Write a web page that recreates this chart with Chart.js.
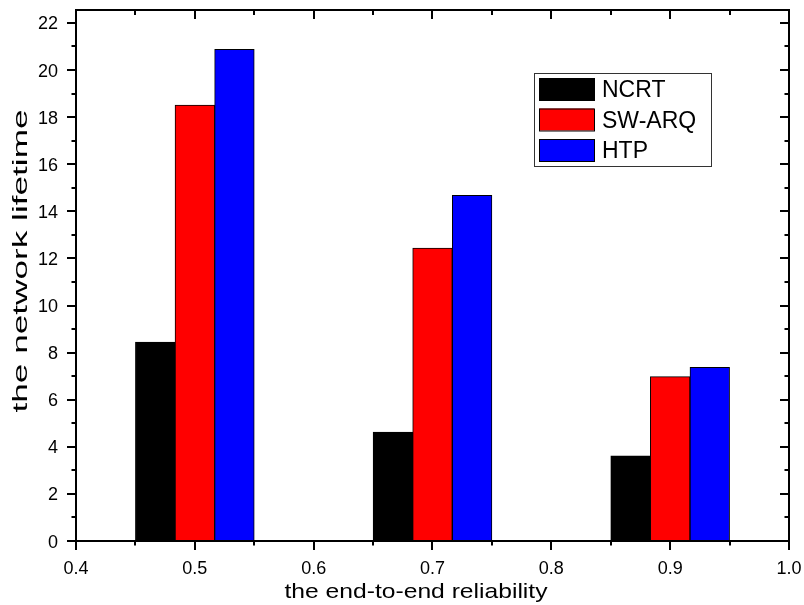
<!DOCTYPE html>
<html>
<head>
<meta charset="utf-8">
<script src="https://cdn.jsdelivr.net/npm/chart.js@4/dist/chart.umd.min.js"></script>
<style>
  html, body { margin: 0; padding: 0; background: #fff; }
  #wrap { width: 804px; height: 605px; }
</style>
</head>
<body>
<div id="wrap"><canvas id="lifetime-bar" width="804" height="605"></canvas></div>
<script>
// reliability values (x positions of the groups)
const reliability = [0.5, 0.7, 0.9];
const seriesNames = ["NCRT", "SW-ARQ", "HTP"];
const ncrt = [8.45, 4.63, 3.62];
const swArq = [18.51, 12.44, 6.98];
const htp = [20.88, 14.68, 7.37];
const seriesColors = ["#000000", "#ff0000", "#0000ff"];
const xTicks = [0.4, 0.5, 0.6, 0.7, 0.8, 0.9, 1.0];
const yTicks = [0, 2, 4, 6, 8, 10, 12, 14, 16, 18, 20, 22];

const FONT = "'Liberation Sans', Arial, Helvetica, sans-serif";

document.addEventListener("DOMContentLoaded", () => {
  const canvas = document.getElementById("lifetime-bar");
  const ctx = canvas.getContext("2d");

  const toPoints = vals => vals.map((v, i) => ({ x: reliability[i], y: v }));
  const seriesData = [ncrt, swArq, htp];

  // frame, mirrored axes, minor ticks, labels and legend (Origin style)
  const framePlugin = {
    id: "frame",
    afterDraw(chart) {
      const { ctx, chartArea: a, scales: { x, y } } = chart;
      ctx.save();
      ctx.strokeStyle = "#000";
      ctx.lineWidth = 2;
      ctx.strokeRect(a.left, a.top, a.right - a.left, a.bottom - a.top);

      ctx.beginPath();
      for (let i = 0; i < xTicks.length; i++) {
        const px = Math.round(x.getPixelForValue(xTicks[i]));
        ctx.moveTo(px, a.bottom); ctx.lineTo(px, a.bottom + 9);
        ctx.moveTo(px, a.top); ctx.lineTo(px, a.top + 9);
        if (i < xTicks.length - 1) {
          const mx = Math.round(x.getPixelForValue((xTicks[i] + xTicks[i + 1]) / 2));
          ctx.moveTo(mx, a.bottom); ctx.lineTo(mx, a.bottom + 4.5);
          ctx.moveTo(mx, a.top); ctx.lineTo(mx, a.top + 5);
        }
      }
      for (let i = 0; i < yTicks.length; i++) {
        const py = Math.round(y.getPixelForValue(yTicks[i]));
        ctx.moveTo(a.left, py); ctx.lineTo(a.left - 9, py);
        ctx.moveTo(a.right, py); ctx.lineTo(a.right - 9, py);
        const my = Math.round(y.getPixelForValue(yTicks[i] + 1));
        if (my > a.top) {
          ctx.moveTo(a.left, my); ctx.lineTo(a.left - 4.5, my);
          ctx.moveTo(a.right, my); ctx.lineTo(a.right - 4.5, my);
        }
      }
      ctx.stroke();

      // tick labels
      ctx.fillStyle = "#000";
      ctx.font = "18px " + FONT;
      ctx.textBaseline = "alphabetic";
      ctx.textAlign = "right";
      yTicks.forEach(v => {
        ctx.fillText(String(v), a.left - 18, y.getPixelForValue(v) + 6.5);
      });
      ctx.textAlign = "center";
      xTicks.forEach(v => {
        ctx.fillText(v.toFixed(1), x.getPixelForValue(v), a.bottom + 33);
      });

      // axis titles (the original text is stretched sideways)
      const drawStretched = (text, cx, baseY, targetW, rot) => {
        ctx.save();
        ctx.font = "21px " + FONT;
        ctx.fillStyle = "#000";
        ctx.textAlign = "center";
        ctx.textBaseline = "alphabetic";
        const w = ctx.measureText(text).width;
        ctx.translate(cx, baseY);
        if (rot) ctx.rotate(-Math.PI / 2);
        ctx.scale(targetW / w, 1);
        ctx.fillText(text, 0, 0);
        ctx.restore();
      };
      drawStretched("the end-to-end reliability", 416, 598, 263, false);
      drawStretched("the network lifetime", 27, 261, 303, true);

      // legend box
      const lx = 534, ly = 73, lw = 177, lh = 93;
      ctx.fillStyle = "#fff";
      ctx.fillRect(lx, ly, lw, lh);
      ctx.lineWidth = 1;
      ctx.strokeStyle = "#333";
      ctx.strokeRect(lx + 0.5, ly + 0.5, lw, lh);
      ctx.font = "23px " + FONT;
      ctx.textBaseline = "alphabetic";
      ctx.textAlign = "left";
      chart.data.datasets.forEach((ds, i) => {
        const sy = 78 + i * 30.5;
        ctx.fillStyle = ds.backgroundColor;
        ctx.fillRect(539, sy, 55, 22);
        ctx.strokeStyle = "#000";
        ctx.strokeRect(539.5, sy + 0.5, 55, 22);
        ctx.fillStyle = "#000";
        ctx.fillText(ds.label, 602, sy + 19);
      });
      ctx.restore();
    }
  };

  const noPad = s => { s.paddingTop = 0; s.paddingBottom = 0; s.paddingLeft = 0; s.paddingRight = 0; };

  new Chart(ctx, {
    type: "bar",
    data: {
      datasets: seriesNames.map((name, i) => ({
        label: name,
        data: toPoints(seriesData[i]),
        backgroundColor: seriesColors[i],
        borderColor: "#000",
        borderWidth: 1,
        barPercentage: 1.0,
        categoryPercentage: 1.0
      }))
    },
    options: {
      responsive: false,
      animation: false,
      layout: { padding: { left: 0, right: 15, top: 10, bottom: 0 } },
      plugins: { legend: { display: false }, tooltip: { enabled: false } },
      scales: {
        x: {
          type: "linear",
          min: 0.4,
          max: 1.0,
          offset: false,
          grid: { display: false, offset: false },
          border: { display: false },
          afterBuildTicks: s => { s.ticks = xTicks.map(v => ({ value: v })); },
          afterFit: s => { s.height = 64; noPad(s); },
          ticks: { display: false }
        },
        y: {
          min: 0,
          max: 22.55,
          grid: { display: false },
          border: { display: false },
          afterBuildTicks: s => { s.ticks = yTicks.map(v => ({ value: v })); },
          afterFit: s => { s.width = 76; noPad(s); },
          ticks: { display: false }
        }
      }
    },
    plugins: [framePlugin]
  });
});
</script>
</body>
</html>
